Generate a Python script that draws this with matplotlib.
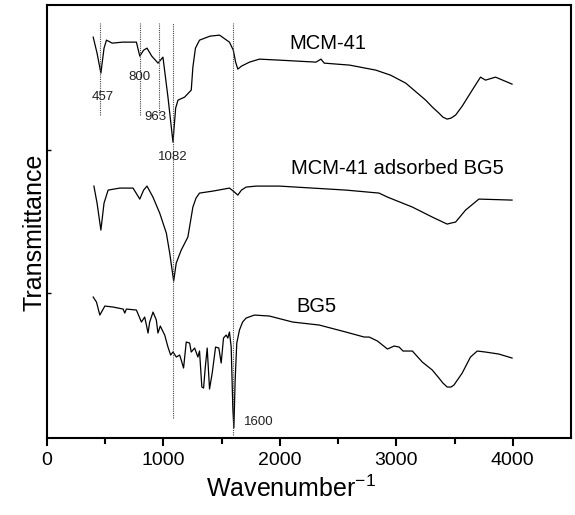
import matplotlib
matplotlib.use("Agg")
import matplotlib.pyplot as plt

plt.rcParams['font.family'] = ['Liberation Sans', 'DejaVu Sans']
plt.rcParams['mathtext.fontset'] = 'custom'
plt.rcParams['mathtext.rm'] = 'Liberation Sans'

# spectra (wavenumber, transmittance in arbitrary offset units)
mcm_wn = [397, 430, 463, 490, 511, 560, 650, 768, 797, 830, 859, 900, 954, 996, 1040,
          1082, 1105, 1125, 1182, 1239, 1253, 1275, 1310, 1400, 1482, 1567, 1600,
          1620, 1639, 1670, 1739, 1824, 1996, 2310, 2353, 2381, 2600, 2824, 2950,
          3081, 3252, 3310, 3366, 3400, 3437, 3470, 3509, 3566, 3652, 3723, 3766,
          3852, 3994]
mcm_t = [401, 385, 365, 390, 398, 395, 396, 396, 382, 388, 390, 382, 375, 381, 340,
         296, 330, 338, 341, 348, 371, 390, 398, 402, 403, 396, 388,
         376, 369, 372, 376, 379, 378, 376, 379, 375, 373, 368, 363,
         355, 338, 331, 325, 321, 319, 320, 323, 332, 348, 361, 358,
         361, 354]

ads_wn = [403, 430, 463, 490, 525, 625, 739, 797, 830, 859, 910, 968, 1025, 1054,
          1088, 1110, 1153, 1210, 1253, 1280, 1310, 1425, 1567, 1600, 1639, 1670,
          1710, 1796, 1996, 2567, 2852, 2924, 3138, 3309, 3400, 3437, 3470, 3509,
          3595, 3709, 3994]
ads_t = [252, 235, 208, 235, 248, 250, 250, 239, 248, 252, 241, 225, 205, 185,
         157, 175, 188, 201, 231, 240, 245, 247, 250, 247, 243, 248,
         251, 252, 252, 248, 245, 241, 231, 221, 216, 214, 215, 216,
         228, 239, 238]

bg5_wn = [397, 425, 454, 497, 568, 654, 668, 682, 768, 811, 839, 854, 868, 882, 911,
          939, 953, 973, 1011, 1039, 1062, 1082, 1111, 1139, 1153, 1173, 1196, 1225,
          1239, 1268, 1296, 1310, 1330, 1345, 1359, 1376, 1396, 1419, 1448, 1476,
          1496, 1516, 1539, 1553, 1567, 1582, 1596, 1605, 1616, 1630, 1653, 1680,
          1710, 1782, 1910, 2110, 2338, 2567, 2724, 2767, 2838, 2924, 2981, 3024,
          3058, 3138, 3223, 3309, 3366, 3400, 3437, 3470, 3495, 3566, 3637, 3695,
          3766, 3880, 3994]
bg5_t = [141, 136, 123, 132, 131, 129, 125, 129, 128, 116, 121, 113, 105, 116, 126,
         118, 105, 112, 103, 91, 83, 86, 81, 83, 78, 70, 96, 95,
         86, 90, 81, 87, 51, 50, 70, 90, 49, 65, 91, 90,
         75, 100, 103, 100, 106, 91, 30, 10, 58, 95, 108, 116,
         120, 123, 122, 116, 113, 106, 101, 101, 97, 89, 92, 91,
         87, 87, 76, 68, 60, 55, 51, 51, 53, 65, 81, 87,
         86, 84, 80]

# marked bands: position, line top/bottom, label position
peaks = [457, 800, 963, 1082, 1600]
peak_top = [415, 415, 415, 415, 415]
peak_bottom = [323, 323, 323, 20, 3]
peak_lbl_x = [480, 790, 930, 1080, 1690]
peak_lbl_y = [341, 361, 321, 281, 16]

names = ['MCM-41', 'MCM-41 adsorbed BG5', 'BG5']
name_x = [2081, 2098, 2141]
name_y = [395, 270, 132]

fig = plt.figure(figsize=(5.75, 5.15), dpi=100)
ax = fig.add_axes([0.0817, 0.1495, 0.9113, 0.8405])

for wn, t in [(mcm_wn, mcm_t), (ads_wn, ads_t), (bg5_wn, bg5_t)]:
    ax.plot(wn, t, color='black', lw=0.9)

for p, top, bot, lx, ly in zip(peaks, peak_top, peak_bottom, peak_lbl_x, peak_lbl_y):
    ax.plot([p, p], [bot, top], color='#444444', lw=0.8, ls=(0, (1, 1)))
    ax.text(lx, ly, str(p), fontsize=9.5, ha='center' if p != 1600 else 'left',
            va='center', color='#222222')

for n, x, y in zip(names, name_x, name_y):
    ax.text(x, y, n, fontsize=14.5, ha='left', va='center')

ax.set_xlim(0, 4500)
ax.set_ylim(0, 433)
ax.set_xticks([0, 1000, 2000, 3000, 4000])
ax.set_xticks([500, 1500, 2500, 3500], minor=True)
ax.tick_params(axis='x', which='major', direction='out', length=6, width=1.5,
               labelsize=14, pad=4)
ax.tick_params(axis='x', which='minor', direction='out', length=4, width=1.5)
ax.set_yticks([145, 288])
ax.tick_params(axis='y', direction='in', length=3, width=1, labelleft=False)
for s in ax.spines.values():
    s.set_linewidth(1.5)

fig.text(291 / 575, 18 / 515, r'Wavenumber$^{-1}$', fontsize=18,
         ha='center', va='baseline')
fig.text(42 / 575, 1 - 232 / 515, 'Transmittance', fontsize=18, rotation=90,
         rotation_mode='anchor', ha='center', va='baseline')

fig.savefig('out.png', dpi=100)
